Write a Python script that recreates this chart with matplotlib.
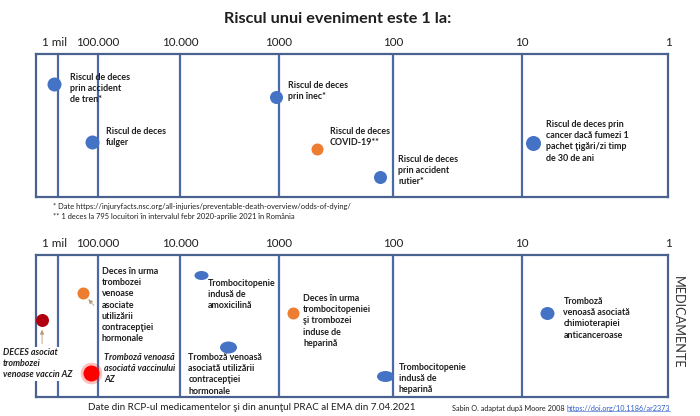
import numpy as np
import matplotlib
matplotlib.use("Agg")
import matplotlib.pyplot as plt
from matplotlib.path import Path
from matplotlib.transforms import Affine2D, ScaledTranslation
from matplotlib.lines import Line2D

plt.rcParams['font.family'] = ['Lato', 'DejaVu Sans']

# ---------------- data ----------------
TITLE = "Riscul unui eveniment este 1 la:"
TICK_N = [1e6, 1e5, 1e4, 1e3, 1e2, 10, 1]
TICK_LABELS = ['1 mil', '100.000', '10.000', '1000', '100', '10', '1']

# top panel: general risks (1 in N), vertical lane (px row), colour key
top_labels = [
    "Riscul de deces\nprin accident\nde tren*",
    "Riscul de deces\nfulger",
    "Riscul de deces\nprin înec*",
    "Riscul de deces\nCOVID-19**",
    "Riscul de deces\nprin accident\nrutier*",
    "Riscul de deces prin\ncancer dacă fumezi 1\npachet ţigări/zi timp\nde 30 de ani",
]
top_odds = [1.52e6, 1.43e5, 1070, 464, 130, 8.4]
top_lane = [84, 142, 97, 149, 177, 143]
top_kind = ['blue', 'blue', 'blue', 'orange', 'blue', 'blue']

# bottom panel: medicines
bot_labels = [
    "DECES asociat\ntrombozei\nvenoase vaccin AZ",
    "Deces în urma\ntrombozei\nvenoase\nasociate\nutilizării\ncontracepţiei\nhormonale",
    "Tromboză venoasă\nasociată vaccinului\nAZ",
    "Trombocitopenie\nindusă de\namoxicilină",
    "Tromboză venoasă\nasociată utilizării\ncontracepţiei\nhormonale",
    "Deces în urma\ntrombocitopeniei\nşi trombozei\ninduse de\nheparină",
    "Trombocitopenie\nindusă de\nheparină",
    "Tromboză\nvenoasă asociată\nchimioterapiei\nanticanceroase",
]
bot_odds = [5.3e6, 2.4e5, 1.5e5, 6200, 3240, 750, 118, 6.7]
bot_lane = [320, 293, 373, 275, 347, 313, 376, 313]
bot_kind = ['darkred', 'orange', 'red', 'blue', 'blue', 'orange', 'blue', 'blue']

FOOT1 = "* Date https://injuryfacts.nsc.org/all-injuries/preventable-death-overview/odds-of-dying/"
FOOT2 = "** 1 deces la 795 locuitori în intervalul febr 2020-aprilie 2021 în România"
SOURCE = "Date din RCP-ul medicamentelor şi din anunţul PRAC al EMA din 7.04.2021"
CREDIT = "Sabin O. adaptat după Moore 2008 "
LINK = "https://doi.org/10.1186/ar2373"
SIDE = "MEDICAMENTE"

# ---------------- style / layout ----------------
COL = {'blue': '#4472C4', 'orange': '#ED7D31', 'darkred': '#B00010', 'red': '#FF0000'}
LINE_C = '#4A6AA6'
EDGE_C = '#4A6290'
TXT_C = '#1E1E1E'
W, H = 700, 416

# piecewise-log axis: -log10(N) breakpoints -> axis units
LB = np.array([-7, -6, -5, -4, -3, -2, -1, 0], float)
UB = np.array([36, 58, 98, 180, 279, 393, 522, 668], float)

def fwd(n):
    n = np.clip(np.asarray(n, float), 1e-12, None)
    return np.interp(-np.log10(n), LB, UB)

def inv(u):
    return 10 ** (-np.interp(np.asarray(u, float), UB, LB))

# marker shapes (w, h in px), label offsets (px, to left/top of text)
top_shape = [(14, 14), (14, 14), (13, 13), (12, 12), (13, 13), (15, 15)]
top_off = [(16, -11), (14, -15), (12, -16), (13, -22), (18, -22), (13, -23)]
bot_shape = [(13, 13), (12, 12), (16, 16), (14, 9), (17, 12), (12, 12), (17, 11), (14, 13)]
bot_off = [(-39, 28), (19, -26), (13, -20), (7, 4), (-40, 6), (10, -19), (14, -13), (16, -16)]
bot_style = ['italic', 'normal', 'italic', 'normal', 'normal', 'normal', 'normal', 'normal']

fig = plt.figure(figsize=(W / 100, H / 100), dpi=100)
fig.patch.set_facecolor('white')

def make_axes(top_px, bot_px):
    ax = fig.add_axes([36 / W, 1 - bot_px / H, 632 / W, (bot_px - top_px) / H])
    ax.set_xscale('function', functions=(fwd, inv))
    ax.set_xlim(1, 1e7)
    ax.set_ylim(bot_px, top_px)
    ax.set_xticks(TICK_N)
    ax.set_xticklabels(TICK_LABELS)
    ax.xaxis.set_minor_locator(matplotlib.ticker.NullLocator())
    ax.xaxis.tick_top()
    ax.tick_params(axis='x', length=0, pad=4.5, labelsize=8.4, labelcolor=TXT_C)
    ax.set_yticks([])
    for s in ax.spines.values():
        s.set_color(EDGE_C)
        s.set_linewidth(1.6)
    for n in TICK_N[:-1]:
        ax.axvline(n, color=LINE_C, lw=1.6, zorder=1)
    lbl = ax.get_xticklabels()[0]
    lbl.set_transform(lbl.get_transform() + ScaledTranslation(-3 / 100, 0, fig.dpi_scale_trans))
    return ax

def marker_path(w, h):
    return Affine2D().scale(w, h).transform_path(Path.unit_circle())

def draw_points(ax, odds, lane, kind, shape, labels, offs, styles):
    for i in range(len(odds)):
        w, h = shape[i]
        mk = marker_path(w, h)
        ms = max(w, h) * 0.72
        if kind[i] == 'red':
            ax.plot(odds[i], lane[i], marker=mk, ms=ms * 1.35, color=COL['red'],
                    alpha=0.25, mew=0, zorder=4, linestyle='none')
        ax.plot(odds[i], lane[i], marker=mk, ms=ms, color=COL[kind[i]], mew=0,
                zorder=5, linestyle='none')
        dx, dy = offs[i]
        bbox = None
        if styles[i] == 'italic' and kind[i] == 'darkred':
            bbox = dict(boxstyle='square,pad=0.15', fc='white', ec='none')
        ax.annotate(labels[i], xy=(odds[i], lane[i]), xytext=(dx * 0.72, -dy * 0.72),
                    textcoords='offset points', ha='left', va='top', fontsize=6.4,
                    fontweight='bold', fontstyle=styles[i], color=TXT_C,
                    linespacing=1.32, zorder=6, bbox=bbox)

ax1 = make_axes(54, 197)
draw_points(ax1, top_odds, top_lane, top_kind, top_shape, top_labels, top_off,
            ['normal'] * len(top_odds))

ax2 = make_axes(255, 397)
draw_points(ax2, bot_odds, bot_lane, bot_kind, bot_shape, bot_labels, bot_off, bot_style)

# small pointer arrows
arrow_c = '#B89C78'
ax2.annotate('', xy=(bot_odds[0], bot_lane[0]), xytext=(0, -17),
             textcoords='offset points',
             arrowprops=dict(arrowstyle='-|>,head_length=0.25,head_width=0.12', color=arrow_c,
                             lw=0.6, shrinkA=0, shrinkB=7))
ax2.annotate('', xy=(bot_odds[1], bot_lane[1]), xytext=(8, -9),
             textcoords='offset points',
             arrowprops=dict(arrowstyle='-|>,head_length=0.25,head_width=0.12', color=arrow_c,
                             lw=0.6, shrinkA=0, shrinkB=6))

# texts
fig.text(338 / W, 1 - 19 / H, TITLE, ha='center', va='center', fontsize=11.7,
         fontweight='bold', color=TXT_C)
fig.text(53 / W, 1 - 207 / H, FOOT1, ha='left', va='center', fontsize=5.4, color=TXT_C)
fig.text(53 / W, 1 - 217 / H, FOOT2, ha='left', va='center', fontsize=5.4, color=TXT_C)
fig.text(678 / W, 1 - 322 / H, SIDE, ha='center', va='center', rotation=270,
         fontsize=9.2, color='#333333')
fig.text(252 / W, 1 - 408 / H, SOURCE, ha='center', va='center', fontsize=7.1, color=TXT_C)
t_credit = fig.text(452 / W, 1 - 408 / H, CREDIT, ha='left', va='center', fontsize=5.2,
                    color=TXT_C)
fig.canvas.draw()
r = fig.canvas.get_renderer()
bb = t_credit.get_window_extent(r)
x_link = bb.x1 / W
t_link = fig.text(x_link, 1 - 408 / H, LINK, ha='left', va='center', fontsize=5.2,
                  color='#2F5EC8')
bl = t_link.get_window_extent(r)
fig.add_artist(Line2D([bl.x0 / W, bl.x1 / W], [(bl.y0 + 0.5) / H] * 2, color='#2F5EC8',
                      lw=0.4, transform=fig.transFigure))

fig.savefig('out.png', dpi=100, facecolor='white')
